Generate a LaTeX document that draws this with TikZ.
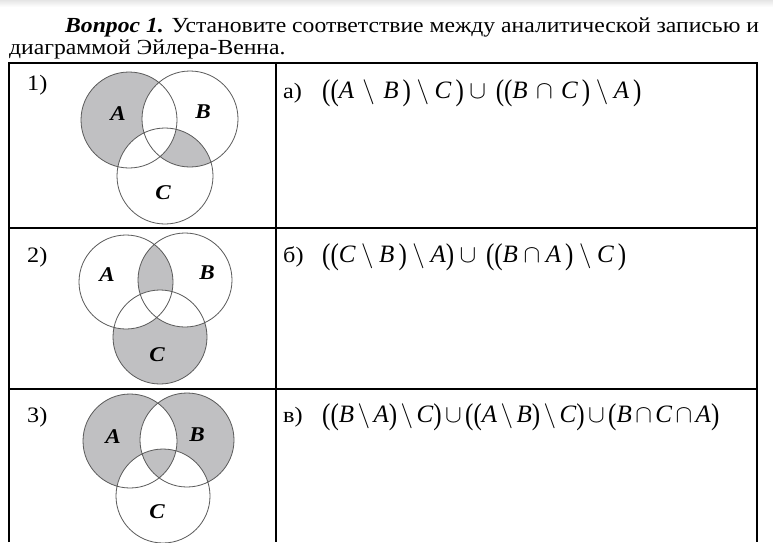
\RequirePackage{fix-cm}
\documentclass[tikz,border=0pt]{standalone}
\usepackage{amsmath}
\usepackage{graphicx}
\usepackage{fontspec}
\setmainfont{Liberation Serif}
\definecolor{vennfill}{RGB}{192,192,194}
\definecolor{ring}{RGB}{90,90,90}
\newcommand\mi[1]{\textit{#1}}
\newcommand\LP{\mathopen{\raisebox{-0.08em}{\scalebox{1}[1.2]{(}}}}
\newcommand\RP{\mathclose{\raisebox{-0.08em}{\scalebox{1}[1.2]{)}}}}
\newcommand\wide[1]{\scalebox{1.1}[1]{#1}}
\tikzset{
  grid/.style={line width=1.1pt, black},
  ringline/.style={draw=ring, line width=0.8pt},
  lbl/.style={font=\fontsize{21}{21}\selectfont\bfseries\itshape, inner sep=0pt},
  num/.style={font=\fontsize{22}{22}\selectfont, anchor=west, inner sep=0pt},
  formula/.style={font=\fontsize{25}{30}\selectfont, anchor=west, inner sep=0pt},
  titletext/.style={font=\fontsize{21.5}{22}\selectfont, anchor=west, inner sep=0pt}
}
\begin{document}
\begin{tikzpicture}[x=1pt,y=-1pt]
\useasboundingbox (0,0) rectangle (773,542);
\fill[white] (0,0) rectangle (773,542);
\shade[top color=black!10, bottom color=white] (0,0) rectangle (773,7);
% title
\node[titletext] (t1) at (65,27) {\wide{\textbf{\textit{Вопрос 1.}} Установите соответствие между аналитической записью и}};
\node[titletext] (t2) at (9,49) {\wide{диаграммой Эйлера-Венна.}};
% table
\draw[grid] (9,542) -- (9,63) -- (757,63) -- (757,542);
\draw[grid] (276,63) -- (276,542);
\draw[grid] (9,228) -- (757,228);
\draw[grid] (9,389) -- (757,389);
% ---------- diagram 1 ----------
\begin{scope}
\def\ra{48}
\coordinate (A1) at (129,120);
\coordinate (B1) at (190,119);
\coordinate (C1) at (165,176);
\fill[vennfill] (A1) circle (\ra);
\fill[white] (B1) circle (\ra);
\fill[white] (C1) circle (\ra);
\begin{scope}
\clip (B1) circle (\ra);
\fill[vennfill] (C1) circle (\ra);
\clip (C1) circle (\ra);
\fill[white] (A1) circle (\ra);
\end{scope}
\draw[ringline] (A1) circle (\ra) (B1) circle (\ra) (C1) circle (\ra);
\end{scope}
\node[lbl] (la1) at (118,114) {\wide{A}};
\node[lbl] (lb1) at (203,112) {\wide{B}};
\node[lbl] (lc1) at (163,193) {\wide{C}};
\node[num] (n1) at (27,85) {\wide{1)}};
% ---------- diagram 2 ----------
\begin{scope}
\def\ra{47}
\coordinate (A2) at (126,282);
\coordinate (B2) at (185,280);
\coordinate (C2) at (160,337);
\fill[vennfill] (C2) circle (\ra);
\fill[white] (A2) circle (\ra);
\fill[white] (B2) circle (\ra);
\begin{scope}
\clip (A2) circle (\ra);
\fill[vennfill] (B2) circle (\ra);
\clip (B2) circle (\ra);
\fill[white] (C2) circle (\ra);
\end{scope}
\draw[ringline] (A2) circle (\ra) (B2) circle (\ra) (C2) circle (\ra);
\end{scope}
\node[lbl] (la2) at (107,275) {\wide{A}};
\node[lbl] (lb2) at (207,273) {\wide{B}};
\node[lbl] (lc2) at (157,355) {\wide{C}};
\node[num] (n2) at (27,257) {\wide{2)}};
% ---------- diagram 3 ----------
\begin{scope}
\def\ra{47}
\coordinate (A3) at (130,441);
\coordinate (B3) at (187,440);
\coordinate (C3) at (163,496);
\fill[vennfill] (A3) circle (\ra);
\fill[vennfill] (B3) circle (\ra);
\fill[white] (C3) circle (\ra);
\begin{scope}
\clip (A3) circle (\ra);
\fill[white] (B3) circle (\ra);
\clip (B3) circle (\ra);
\fill[vennfill] (C3) circle (\ra);
\end{scope}
\draw[ringline] (A3) circle (\ra) (B3) circle (\ra) (C3) circle (\ra);
\end{scope}
\node[lbl] (la3) at (113,437) {\wide{A}};
\node[lbl] (lb3) at (197,435) {\wide{B}};
\node[lbl] (lc3) at (157,512) {\wide{C}};
\node[num] (n3) at (27,417) {\wide{3)}};
% ---------- formulas ----------
\node[num] (fa) at (283,93) {\wide{а)}};
\node[formula] (f1) at (322,93) {$\LP\LP\mi{A}\mkern2mu\setminus\mkern2mu\mi{B}\,\RP\setminus\mi{C}\,\RP\cup\,\LP\LP\mi{B}\mkern2mu\cap\mkern2mu\mi{C}\,\RP\setminus\mi{A}\,\RP$};
\node[num] (fb) at (283,257) {\wide{б)}};
\node[formula] (f2) at (322,257) {$\LP\LP\mi{C}\setminus\mi{B}\,\RP\setminus\mi{A}\RP\cup\,\LP\LP\mi{B}\cap\mi{A}\,\RP\setminus\mi{C}\,\RP$};
\node[num] (fc) at (283,417) {\wide{в)}};
\node[formula] (f3) at (322,417) {\medmuskip=2.5mu $\LP\LP\mi{B}\setminus\mi{A}\RP\setminus\mi{C}\RP\cup\LP\LP\mi{A}\setminus\mi{B}\RP\setminus\mi{C}\RP\cup\LP\mi{B}\cap\mi{C}\cap\mi{A}\RP$};
\end{tikzpicture}
\end{document}
